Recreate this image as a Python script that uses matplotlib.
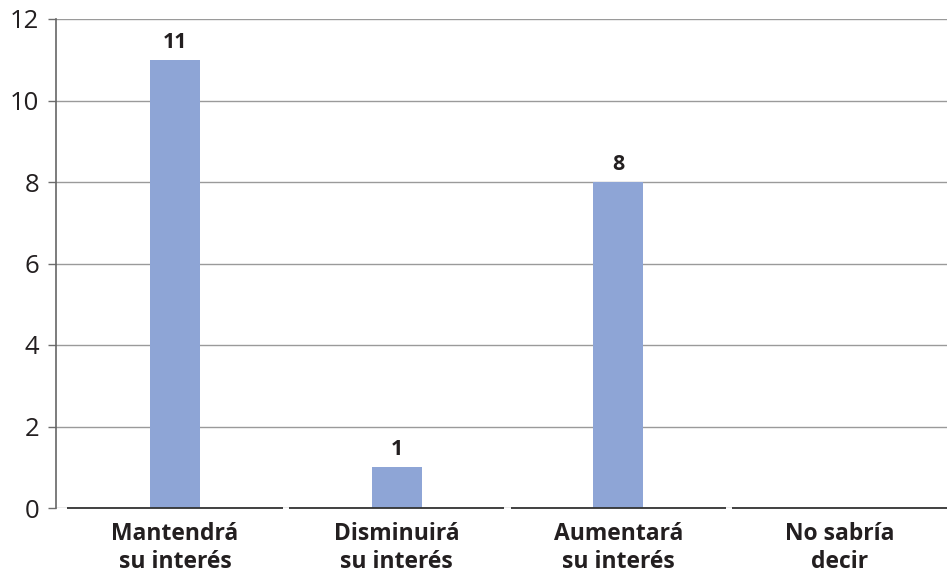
import matplotlib.pyplot as plt

categories = ["Mantendrá\nsu interés", "Disminuirá\nsu interés", "Aumentará\nsu interés", "No sabría\ndecir"]
values = [11, 1, 8, 0]
value_labels = ["11", "1", "8", ""]
y_ticks = [0, 2, 4, 6, 8, 10, 12]

BAR_COLOR = "#8ea5d6"
TEXT_COLOR = "#231f20"

plt.rcParams["font.family"] = ["Open Sans", "DejaVu Sans"]

W, H = 947, 574
fig = plt.figure(figsize=(W / 100, H / 100), dpi=100)
ax = fig.add_axes([56 / W, 66 / H, (W - 56) / W, (508 - 19) / H])

x = list(range(len(categories)))
ax.bar(x, values, width=0.226, color=BAR_COLOR, zorder=3)

for xi, v, lab in zip(x, values, value_labels):
    if lab:
        ax.annotate(lab, (xi, v), xytext=(0, 5), textcoords="offset points",
                    ha="center", va="bottom", fontsize=15.5, fontweight="bold",
                    color=TEXT_COLOR)

# category baseline drawn as separate segments with small gaps
gap = 0.014
for xi in x:
    ax.hlines(0, xi - 0.5 + gap, xi + 0.5 - gap, color="#333333", lw=1.3,
              zorder=4, clip_on=False)

ax.set_xlim(-0.537, 3.483)
ax.set_ylim(0, 12)
ax.set_yticks(y_ticks)
ax.set_yticklabels([str(t) for t in y_ticks], fontsize=18.5, color=TEXT_COLOR)
ax.grid(axis="y", color="#9a9a9a", lw=1.0, zorder=0)
ax.tick_params(axis="y", length=6, width=1, color="#6d6d6d", pad=6)

ax.set_xticks(x)
ax.set_xticklabels(categories, fontsize=16.5, fontweight="bold",
                   color=TEXT_COLOR, linespacing=1.25)
ax.tick_params(axis="x", length=0, pad=10)

for side in ["top", "right", "bottom"]:
    ax.spines[side].set_visible(False)
ax.spines["left"].set_color("#666666")
ax.spines["left"].set_linewidth(1.2)

fig.savefig("out.png", dpi=100)
